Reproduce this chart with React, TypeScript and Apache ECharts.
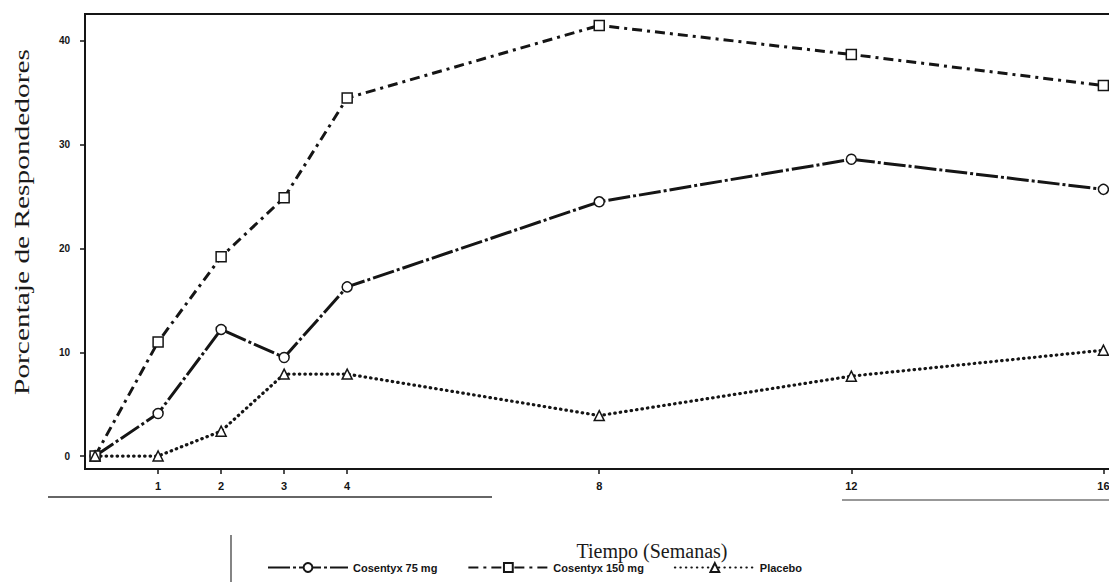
import React, { useEffect, useRef } from "react";
import * as echarts from "echarts";

const weeks = [0, 1, 2, 3, 4, 8, 12, 16];
const xTicks = [1, 2, 3, 4, 8, 12, 16];
const yTicks = [0, 10, 20, 30, 40];
const cosentyx75 = [0, 4.1, 12.2, 9.5, 16.3, 24.5, 28.6, 25.7];
const cosentyx150 = [0, 11.0, 19.2, 24.9, 34.5, 41.5, 38.7, 35.7];
const placebo = [0, 0, 2.4, 7.9, 7.9, 3.9, 7.7, 10.2];
const seriesNames = ["Cosentyx 75 mg", "Cosentyx 150 mg", "Placebo"];

const INK = "#151515";

function pairs(vals: number[]) {
  return weeks.map((w, i) => [w, vals[i]]);
}

export default function App() {
  const ref = useRef<HTMLDivElement>(null);
  useEffect(() => {
    if (!ref.current) return;
    const chart = echarts.init(ref.current, null, { renderer: "svg" });
    const tickFont = {
      color: INK,
      fontFamily: "Liberation Sans, Arial, sans-serif",
      fontWeight: "bold" as const,
      fontSize: 11,
    };
    chart.setOption({
      animation: false,
      backgroundColor: "#ffffff",
      grid: {
        left: 85,
        top: 14,
        width: 1031,
        height: 455,
        show: true,
        borderColor: INK,
        borderWidth: 2,
        containLabel: false,
      },
      xAxis: {
        type: "value",
        min: -0.16,
        max: 16.2,
        splitLine: { show: false },
        axisLine: { show: true, onZero: false, lineStyle: { color: INK, width: 2 } },
        axisTick: { show: true, length: 5, customValues: xTicks, lineStyle: { color: INK, width: 1.5 } },
        axisLabel: { show: true, customValues: xTicks, margin: 11, ...tickFont },
      },
      yAxis: {
        type: "value",
        min: -1.25,
        max: 42.6,
        splitLine: { show: false },
        axisLine: { show: true, onZero: false, lineStyle: { color: INK, width: 2 } },
        axisTick: { show: true, length: 5, customValues: yTicks, lineStyle: { color: INK, width: 1.5 } },
        axisLabel: { show: true, customValues: yTicks, margin: 15, ...tickFont, fontSize: 10 },
      },
      legend: {
        left: 262,
        top: 557,
        itemWidth: 80,
        itemHeight: 11,
        itemGap: 30,
        textStyle: {
          color: INK,
          fontFamily: "Liberation Sans Narrow, Arial Narrow, Liberation Sans, sans-serif",
          fontWeight: "bold",
          fontSize: 11,
        },
        data: seriesNames,
      },
      series: [
        {
          name: seriesNames[0],
          type: "line",
          data: pairs(cosentyx75),
          symbol: "circle",
          symbolSize: 10,
          showAllSymbol: true,
          lineStyle: { color: INK, width: 3, type: [22, 3, 3, 3] },
          itemStyle: { color: "#ffffff", borderColor: INK, borderWidth: 1.5 },
        },
        {
          name: seriesNames[1],
          type: "line",
          data: pairs(cosentyx150),
          symbol: "rect",
          symbolSize: 10,
          lineStyle: { color: INK, width: 3, type: [10, 5, 3, 5] },
          itemStyle: { color: "#ffffff", borderColor: INK, borderWidth: 1.5 },
        },
        {
          name: seriesNames[2],
          type: "line",
          data: pairs(placebo),
          symbol: "triangle",
          symbolSize: 10,
          lineStyle: { color: INK, width: 3.2, type: [0.5, 5], cap: "round" },
          itemStyle: { color: "#ffffff", borderColor: INK, borderWidth: 1.5 },
        },
      ],
      graphic: [
        {
          type: "text",
          x: 22,
          y: 222,
          rotation: Math.PI / 2,
          scaleX: 1.4,
          style: {
            text: "Porcentaje de Respondedores",
            font: '21px "Liberation Serif", "Times New Roman", serif',
            fill: "#1a1a1a",
            align: "center",
            verticalAlign: "middle",
          },
        },
        {
          type: "text",
          x: 652,
          y: 551,
          style: {
            text: "Tiempo (Semanas)",
            font: '20px "Liberation Serif", "Times New Roman", serif',
            fill: "#1a1a1a",
            align: "center",
            verticalAlign: "middle",
          },
        },
        {
          type: "line",
          shape: { x1: 48, y1: 497, x2: 492, y2: 497 },
          style: { stroke: "#333", lineWidth: 1.5 },
        },
        {
          type: "line",
          shape: { x1: 842, y1: 500, x2: 1109, y2: 500 },
          style: { stroke: "#333", lineWidth: 1.2 },
        },
        {
          type: "line",
          shape: { x1: 231, y1: 535, x2: 231, y2: 582 },
          style: { stroke: "#333", lineWidth: 1.2 },
        },
      ],
    });
    return () => chart.dispose();
  }, []);
  return (
    <div
      style={{
        position: "fixed",
        left: 0,
        top: 0,
        width: 1109,
        height: 582,
        overflow: "hidden",
        background: "#fff",
      }}
    >
      <div ref={ref} style={{ width: 1125, height: 582 }} />
    </div>
  );
}
